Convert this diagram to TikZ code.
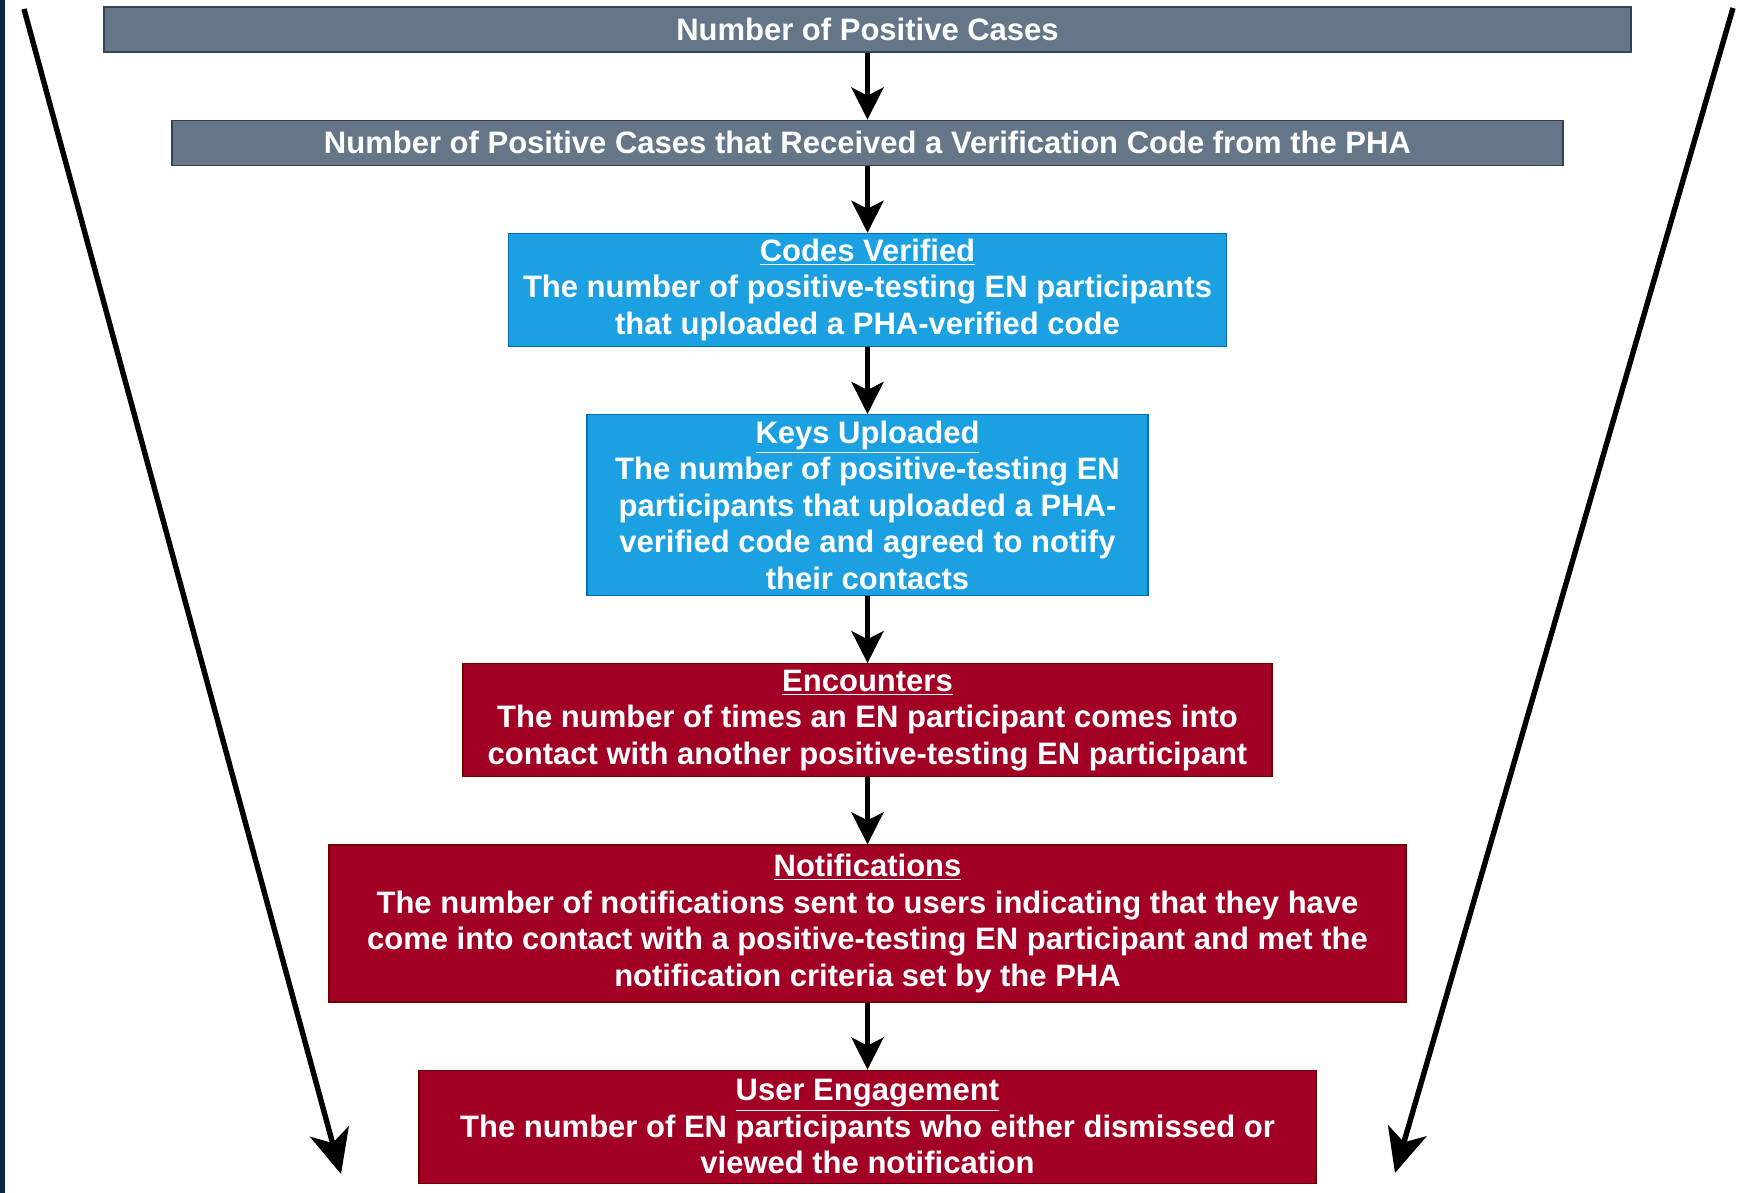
\documentclass[tikz,border=0pt]{standalone}
\usepackage{fontspec}
\setmainfont{Liberation Sans}
\usetikzlibrary{positioning,arrows.meta}

\definecolor{slatefill}{HTML}{647687}
\definecolor{slateline}{HTML}{314354}
\definecolor{bluefill}{HTML}{1BA1E2}
\definecolor{blueline}{HTML}{006EAF}
\definecolor{redfill}{HTML}{A20025}
\definecolor{redline}{HTML}{6F0000}
\definecolor{navyedge}{HTML}{0F2545}

\begin{document}
\begin{tikzpicture}[node distance=33.5pt]
            \tikzstyle{stage} = [rectangle, draw, line width=0.6pt, text=white, align=center, inner sep=0pt, font=\fontsize{15.5}{18.25}\selectfont\bfseries]
            \tikzstyle{casebox} = [stage, fill=slatefill, draw=slateline, minimum height=22.5pt]
            \tikzstyle{appbox} = [stage, fill=bluefill, draw=blueline]
            \tikzstyle{enbox} = [stage, fill=redfill, draw=redline]
            \tikzstyle{arrow} = [line width=2.6pt, -{Stealth[length=16pt, width=16pt, inset=4pt]}]
            \tikzstyle{funnel} = [line width=2.7pt, -{Stealth[length=22pt, width=20pt, inset=6pt]}]

            % page and left edge
            \fill[white] (0,0) rectangle (868.5pt,-596.5pt);
            \fill[navyedge] (0,0) rectangle (2.5pt,-596.5pt);
            \useasboundingbox (0,0) rectangle (868.5pt,-596.5pt);

            \node (cases) [casebox, minimum width=763.5pt] at (433.75pt,-14.75pt) {Number of Positive Cases};
            \node (received) [casebox, minimum width=695.5pt, below=of cases] {Number of Positive Cases that Received a Verification Code from the PHA};
            \node (verified) [appbox, minimum width=359pt, minimum height=56.5pt, below=of received] {\underline{Codes Verified}\\The number of positive-testing EN participants\\that uploaded a PHA-verified code};
            \node (keys) [appbox, minimum width=280.5pt, minimum height=90.5pt, below=of verified] {\underline{Keys Uploaded}\\The number of positive-testing EN\\participants that uploaded a PHA-\\verified code and agreed to notify\\their contacts};
            \node (encounters) [enbox, minimum width=404.5pt, minimum height=56.5pt, below=of keys] {\underline{Encounters}\\The number of times an EN participant comes into\\contact with another positive-testing EN participant};
            \node (notifications) [enbox, minimum width=538.5pt, minimum height=78.5pt, below=of encounters] {\underline{Notifications}\\The number of notifications sent to users indicating that they have\\come into contact with a positive-testing EN participant and met the\\notification criteria set by the PHA};
            \node (engagement) [enbox, minimum width=448.5pt, minimum height=56.5pt, below=of notifications] {\underline{User Engagement}\\The number of EN participants who either dismissed or\\viewed the notification};

            \draw [arrow] (cases) -- (received);
            \draw [arrow] (received) -- (verified);
            \draw [arrow] (verified) -- (keys);
            \draw [arrow] (keys) -- (encounters);
            \draw [arrow] (encounters) -- (notifications);
            \draw [arrow] (notifications) -- (engagement);

            % funnel sides
            \coordinate (leftstart) at (12pt,-4.5pt);
            \coordinate (leftend) at (170.5pt,-587pt);
            \coordinate (rightstart) at (866.5pt,-4pt);
            \coordinate (rightend) at (697.5pt,-586.5pt);
            \draw [funnel] (leftstart) -- (leftend);
            \draw [funnel] (rightstart) -- (rightend);
        \end{tikzpicture}
\end{document}
